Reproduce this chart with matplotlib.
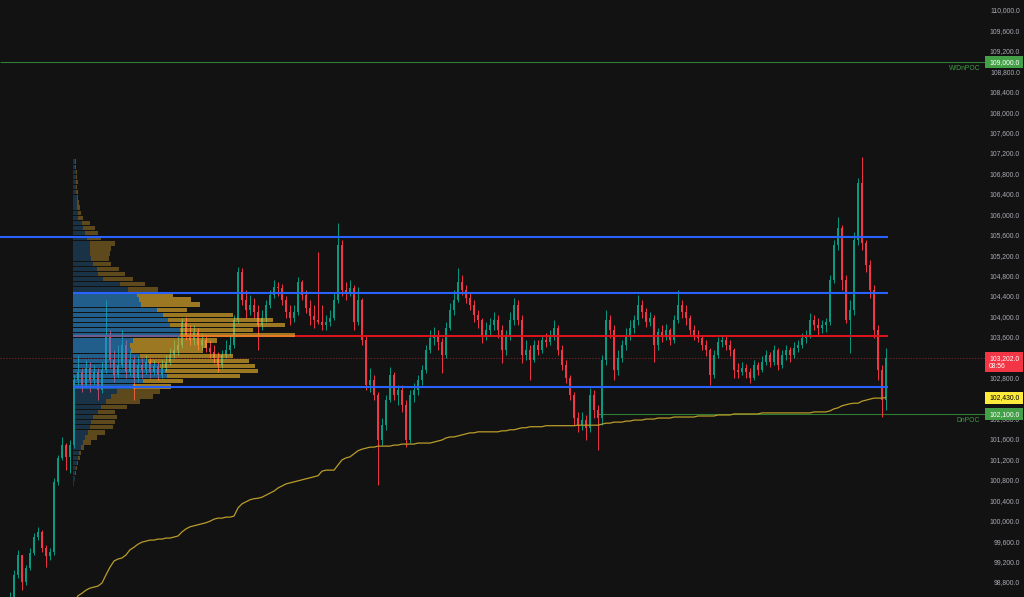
import matplotlib
matplotlib.use("Agg")
import matplotlib.pyplot as plt
import matplotlib.transforms as mtransforms
from matplotlib.patches import Rectangle
from matplotlib.colors import to_rgba
import numpy as np

plt.rcParams['font.family'] = ['Liberation Sans', 'DejaVu Sans']

# ---- candles (open of each bar = previous close) ----
first_open = 98100
closes = [
    98270, 98510, 98960, 99350, 98820, 99090, 99390, 99700, 99800, 99490,
    99330, 99410, 100780, 101250, 101500, 101270, 101500, 102780, 102930, 102680,
    103010, 102780, 102930, 102580, 102970, 103660, 103170, 102870, 103070, 103460,
    102930, 103170, 102810, 103070, 102970, 103130, 102930, 103050, 102870, 103010,
    103130, 103260, 103360, 103460, 103910, 103660, 103560, 103710, 103460, 103560,
    103400, 103320, 103200, 103070, 103260, 103360, 103460, 103950, 104890, 104340,
    104150, 104240, 104110, 103850, 103990, 104240, 104440, 104600, 104580, 104340,
    104110, 103990, 104110, 104690, 104440, 104180, 104030, 103950, 103910, 103850,
    103910, 103990, 104340, 105420, 104540, 104480, 104580, 103910, 104340, 103560,
    102680, 102780, 102480, 101600, 101890, 102380, 102870, 102480, 102580, 102290,
    101600, 102480, 102580, 102780, 102970, 103360, 103600, 103660, 103520, 103260,
    103790, 104150, 104340, 104690, 104540, 104380, 104240, 104050, 103950, 103660,
    103750, 103850, 103950, 103750, 103360, 103660, 103950, 104240, 103950, 103260,
    103360, 103170, 103460, 103360, 103560, 103520, 103660, 103790, 103360, 103070,
    102810, 102480, 102030, 101890, 101990, 101840, 102480, 102190, 102030, 103170,
    103950, 103750, 102970, 103200, 103460, 103660, 103790, 103950, 104240, 104110,
    103910, 103990, 103460, 103710, 103660, 103750, 103560, 103950, 104240, 104110,
    103990, 103750, 103660, 103600, 103460, 103360, 102870, 103260, 103520, 103560,
    103460, 103360, 102970, 102930, 103010, 102930, 102810, 103070, 102970, 103130,
    103260, 103130, 103360, 103070, 103260, 103360, 103260, 103400, 103460, 103600,
    103660, 103950, 103850, 103790, 103850, 103910, 104730, 105420, 105750, 104730,
    103950, 104150, 105520, 106630, 105460, 105030, 104540, 103750, 102970, 102380,
    103202,
]
highs = [
    98470, 98620, 99050, 99450, 99350, 99150, 99490, 99780, 99900, 99840,
    99540, 99490, 100860, 101310, 101660, 101540, 101600, 102870, 103260, 103010,
    103170, 103130, 103070, 103010, 103130, 104340, 103750, 103360, 103460, 103750,
    103560, 103360, 103260, 103240, 103200, 103260, 103200, 103170, 103130, 103170,
    103260, 103400, 103560, 103660, 103990, 104010, 103850, 103850, 103790, 103690,
    103660, 103560, 103460, 103320, 103360, 103560, 103660, 104050, 104990, 104970,
    104540, 104440, 104380, 104240, 104150, 104340, 104540, 104730, 104690, 104650,
    104420, 104240, 104240, 104790, 104730, 104540, 104340, 104240, 105280, 104240,
    104050, 104150, 104480, 105850, 105520, 104690, 104730, 104630, 104600, 104380,
    103660, 103010, 102870, 102540, 102030, 102480, 103030, 102930, 102680, 102680,
    102380, 102580, 102720, 102870, 103070, 103460, 103750, 103810, 103750, 103600,
    103910, 104280, 104540, 104970, 104830, 104630, 104500, 104340, 104150, 103990,
    103910, 103990, 104110, 104050, 103850, 103750, 104110, 104380, 104340, 104050,
    103560, 103460, 103560, 103560, 103660, 103690, 103750, 103950, 103850, 103460,
    103170, 102870, 102540, 102150, 102150, 102090, 102620, 102580, 102290, 103260,
    104150, 104050, 103850, 103360, 103560, 103790, 103950, 104050, 104440, 104340,
    104180, 104110, 104050, 103790, 103850, 103870, 103790, 104050, 104540, 104340,
    104240, 104050, 103850, 103750, 103660, 103560, 103400, 103360, 103620, 103660,
    103640, 103560, 103400, 103110, 103130, 103090, 103010, 103170, 103130, 103240,
    103360, 103320, 103460, 103400, 103360, 103460, 103420, 103520, 103560, 103690,
    103750, 104090, 104050, 103990, 103950, 103990, 104830, 105520, 105970, 105810,
    104830, 104340, 105670, 106730, 107140, 105520, 105120, 104630, 103850, 103070,
    103400,
]
lows = [
    98170, 98270, 98470, 98900, 98660, 98760, 99050, 99350, 99640, 99410,
    99110, 99250, 99350, 100720, 101210, 101010, 100950, 101440, 102680, 102540,
    102620, 102540, 102680, 102380, 102520, 102910, 103010, 102740, 102810, 103010,
    102810, 102850, 102380, 102740, 102810, 102890, 102810, 102870, 102780, 102810,
    102950, 103070, 103200, 103260, 103400, 103560, 103460, 103460, 103360, 103360,
    103320, 103200, 103110, 102930, 103010, 103200, 103260, 103400, 103890, 104240,
    103990, 104050, 103990, 103360, 103750, 103910, 104180, 104380, 104420, 104240,
    103990, 103850, 103910, 104050, 104340, 104090, 103850, 103790, 103870, 103750,
    103750, 103830, 103950, 104280, 104420, 104340, 104420, 103750, 103850, 103460,
    102580, 102540, 102380, 100720, 101500, 101800, 102340, 102380, 102290, 102150,
    101460, 101540, 102340, 102480, 102680, 102910, 103300, 103460, 103360, 102910,
    103200, 103750, 104050, 104300, 104440, 104280, 104150, 103910, 103790, 103500,
    103560, 103660, 103750, 103600, 103110, 103260, 103560, 103850, 103850, 103110,
    103170, 102780, 103130, 103260, 103300, 103420, 103460, 103560, 103260, 102970,
    102720, 102380, 101890, 101760, 101800, 101600, 101760, 102030, 101400, 101890,
    103070, 103600, 102780, 102870, 103130, 103360, 103560, 103690, 103850, 103990,
    103810, 103830, 103130, 103360, 103520, 103560, 103460, 103500, 103890, 103990,
    103850, 103660, 103560, 103520, 103360, 103240, 102680, 102810, 103200, 103420,
    103360, 103240, 102810, 102810, 102870, 102810, 102720, 102780, 102870, 102930,
    103070, 103030, 103070, 102970, 103010, 103170, 103130, 103200, 103320, 103400,
    103500, 103600, 103750, 103660, 103690, 103710, 103850, 104670, 105320, 104540,
    103890, 103300, 104050, 105420, 105320, 104890, 104380, 103600, 102780, 102050,
    102190,
]

# ---- yellow line, starts at bar 17 ----
vwap_start = 17
vwap = [
    98430, 98550, 98600, 98660, 98700, 98720, 98740, 98800, 98960, 99110,
    99230, 99270, 99290, 99350, 99450, 99500, 99560, 99600, 99620, 99640,
    99640, 99660, 99660, 99680, 99680, 99700, 99720, 99800, 99860, 99900,
    99920, 99940, 99960, 99980, 100010, 100050, 100070, 100070, 100090, 100090,
    100110, 100270, 100350, 100390, 100430, 100450, 100460, 100480, 100520, 100560,
    100600, 100660, 100700, 100740, 100760, 100780, 100800, 100820, 100840, 100860,
    100880, 100900, 100990, 101010, 101010, 101010, 101110, 101210, 101250, 101270,
    101330, 101390, 101420, 101440, 101460, 101460, 101480, 101480, 101480, 101480,
    101500, 101500, 101520, 101520, 101520, 101520, 101540, 101540, 101540, 101540,
    101560, 101580, 101600, 101640, 101660, 101660, 101680, 101700, 101720, 101740,
    101740, 101760, 101760, 101760, 101760, 101760, 101760, 101780, 101780, 101800,
    101800, 101820, 101840, 101840, 101860, 101860, 101860, 101860, 101880, 101880,
    101880, 101880, 101880, 101880, 101880, 101880, 101890, 101890, 101890, 101890,
    101890, 101890, 101910, 101930, 101930, 101950, 101950, 101950, 101970, 101970,
    101990, 101990, 101990, 102010, 102010, 102010, 102030, 102030, 102030, 102030,
    102050, 102050, 102050, 102050, 102050, 102050, 102070, 102070, 102070, 102070,
    102070, 102090, 102090, 102090, 102090, 102110, 102110, 102110, 102110, 102110,
    102110, 102110, 102130, 102130, 102130, 102130, 102130, 102130, 102130, 102130,
    102130, 102130, 102130, 102130, 102130, 102150, 102150, 102150, 102150, 102170,
    102210, 102230, 102270, 102290, 102310, 102320, 102320, 102360, 102380, 102400,
    102420, 102420, 102420, 102430,
]

# ---- volume profile, rows 100,750 .. 107,050 (bottom to top) ----
profile_prices = np.arange(100750, 107051, 100)
profile_total = [
    1, 2, 3, 4, 5, 7, 8, 11, 18, 24, 32, 40, 42, 44, 42, 54, 67, 80, 87, 98,
    110, 167, 185, 182, 176, 160, 130, 134, 144, 222, 180, 212, 200, 160, 114, 127, 118, 100, 85, 72,
    60, 52, 46, 38, 36, 37, 38, 42, 28, 25, 22, 17, 10, 8, 7, 6, 5, 5, 4, 5,
    4, 4, 3, 3,
]
profile_up = [
    1, 2, 2, 3, 4, 5, 6, 8, 10, 12, 15, 17, 18, 20, 25, 28, 33, 38, 44, 60,
    70, 94, 92, 87, 75, 67, 58, 57, 60, 107, 107, 97, 95, 90, 84, 68, 66, 64, 55, 47,
    30, 25, 24, 20, 18, 17, 17, 17, 14, 12, 10, 9, 5, 5, 4, 4, 4, 3, 3, 3,
    3, 3, 2, 2,
]
profile_anchor = 17
poc = 103635
vah = 104480
val = 102640

# ---- other levels ----
level_top = 105570
w_dn_poc = 109000
dn_poc = 102100
dn_poc_start = 148
last_price = 103202
vwap_last = 102430
countdown = "08:56"

ticks = [98800, 99200, 99600, 100000, 100400, 100800, 101200, 101600, 102000,
         102400, 102800, 103200, 103600, 104000, 104400, 104800, 105200, 105600,
         106000, 106400, 106800, 107200, 107600, 108000, 108400, 108800, 109200,
         109600, 110000]

bg = '#121212'
green = '#089981'
red = '#f23645'
ymin, ymax = 98526, 110215
ppx = (ymax - ymin) / 597.0
scale_edge = 244.75  # bar position where the price scale begins

fig = plt.figure(figsize=(10.24, 5.97), dpi=100, facecolor=bg)
ax = fig.add_axes([0, 0, 1, 1])
ax.set_facecolor(bg)
ax.set_xlim(-1.5, 254.5)
ax.set_ylim(ymin, ymax)
ax.axis('off')
tr = mtransforms.blended_transform_factory(ax.transAxes, ax.transData)

c = np.array(closes, dtype=float)
o = np.array([first_open] + closes[:-1], dtype=float)
h = np.array(highs, dtype=float)
l = np.array(lows, dtype=float)
n = len(c)
idx = np.arange(n)
cols = np.where(c >= o, green, red)

# thin level lines
ax.hlines(last_price, -1.5, scale_edge, color='#6a2228', lw=0.7, linestyles=(0, (1.5, 1.5)), zorder=1)
ax.hlines(w_dn_poc, -1.5, scale_edge, color='#2e7d32', lw=0.8, zorder=1)
ax.hlines(dn_poc, dn_poc_start, scale_edge, color='#2e7d32', lw=0.8, zorder=1)

# candles
ax.vlines(idx, l, h, color=cols, lw=0.7, zorder=2)
ax.bar(idx, np.maximum(np.abs(c - o), 15), bottom=np.minimum(o, c), width=0.65,
       color=cols, linewidth=0, zorder=2)

ax.plot(np.arange(vwap_start, vwap_start + len(vwap)), vwap, color='#b99c2a', lw=0.9, zorder=2.2)

# POC line sits under the profile
left = profile_anchor - 0.3
ax.hlines(poc, left, n - 0.5, color='#e0141e', lw=1.4, zorder=2.5)

# volume profile
pt = np.array(profile_total, dtype=float)
pu = np.array(profile_up, dtype=float)
in_va = (profile_prices >= val) & (profile_prices <= vah)
sc = 0.25
blue_c = [to_rgba('#2d8dd7', 0.62) if v else to_rgba('#2a7fc0', 0.30) for v in in_va]
yel_c = [to_rgba('#f2b82d', 0.62) if v else to_rgba('#d9a52a', 0.38) for v in in_va]
ax.barh(profile_prices, pu * sc, left=left, height=86, color=blue_c, linewidth=0, zorder=3)
ax.barh(profile_prices, (pt - pu) * sc, left=left + pu * sc, height=86, color=yel_c,
        linewidth=0, zorder=3)

# blue levels on top
ax.hlines(level_top, -1.5, n - 0.5, color='#2962ff', lw=1.5, zorder=4)
ax.hlines([vah, val], left, n - 0.5, color='#2962ff', lw=1.5, zorder=4)

# level labels
ax.text(scale_edge - 1.2, w_dn_poc - 3 * ppx, "W/DnPOC", ha='right', va='top',
        color='#3f9f47', fontsize=4.9, zorder=5)
ax.text(scale_edge - 1.2, dn_poc - 3 * ppx, "DnPOC", ha='right', va='top',
        color='#3f9f47', fontsize=4.9, zorder=5)

# price scale
for t in ticks:
    ax.text(0.996, t, f"{t:,.1f}", transform=tr, ha='right', va='center',
            fontsize=4.9, color='#a9abb3', zorder=4)


def price_box(p, fc, tc, below=6):
    ax.add_patch(Rectangle((0.962, p - below * ppx), 0.037, (6 + below) * ppx,
                           transform=tr, facecolor=fc, edgecolor='none', zorder=5))
    ax.text(0.996, p, f"{p:,.1f}", transform=tr, ha='right', va='center',
            fontsize=4.9, color=tc, zorder=6)


price_box(w_dn_poc, '#43a047', 'white')
price_box(last_price, '#f23645', 'white', below=14)
ax.text(0.966, last_price - 8.5 * ppx, countdown, transform=tr, ha='left', va='center',
        fontsize=4.9, color='white', zorder=6)
price_box(vwap_last, '#ffeb3b', 'black')
price_box(dn_poc, '#43a047', 'white')

fig.savefig('out.png', dpi=100, facecolor=bg)
